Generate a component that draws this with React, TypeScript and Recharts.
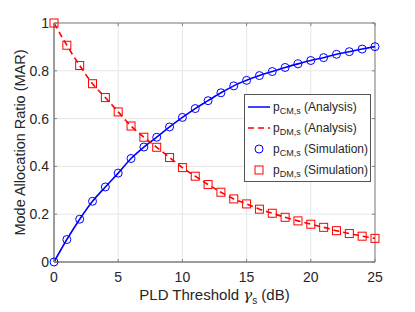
import React from 'react';
import { ComposedChart, Line, XAxis, YAxis, CartesianGrid, ReferenceArea } from 'recharts';

const thresholds = [0, 1, 2, 3, 4, 5, 6, 7, 8, 9, 10, 11, 12, 13, 14, 15, 16, 17, 18, 19, 20, 21, 22, 23, 24, 25];
const pCM = [0, 0.094, 0.179, 0.254, 0.314, 0.372, 0.433, 0.481, 0.522, 0.565, 0.605, 0.642, 0.675, 0.708, 0.737, 0.760, 0.780, 0.797, 0.814, 0.829, 0.843, 0.855, 0.869, 0.880, 0.891, 0.901];
const pDM = [1, 0.907, 0.822, 0.746, 0.688, 0.628, 0.569, 0.522, 0.480, 0.437, 0.395, 0.359, 0.324, 0.292, 0.264, 0.243, 0.221, 0.204, 0.187, 0.172, 0.158, 0.145, 0.131, 0.119, 0.108, 0.099];
const xTicks = [0, 5, 10, 15, 20, 25];
const yTicks = [0, 0.2, 0.4, 0.6, 0.8, 1];

const data = thresholds.map((x, i) => ({ x, cm: pCM[i], dm: pDM[i], cmSim: pCM[i], dmSim: pDM[i] }));

const FONT = '"Liberation Sans", Arial, Helvetica, sans-serif';
const TXT = '#262626';
const AXIS = '#808080';

// plot box (set by margins + axis sizes below)
const TOP = 23;
const BOTTOM = 262;
const LEFT = 54;
const RIGHT = 375;
const TICK = 3;

const Circle = (props: any) => {
  const { cx, cy } = props;
  if (cx == null || cy == null) return null;
  return <circle cx={cx} cy={cy} r={4} fill="none" stroke="#0000ff" strokeWidth={1} />;
};

const Square = (props: any) => {
  const { cx, cy } = props;
  if (cx == null || cy == null) return null;
  return <rect x={cx - 4} y={cy - 4} width={8} height={8} fill="none" stroke="#ff0000" strokeWidth={1} />;
};

const XTick = (props: any) => {
  const { x, payload } = props;
  return (
    <g>
      <line x1={x} y1={BOTTOM} x2={x} y2={BOTTOM - TICK} stroke={AXIS} />
      <line x1={x} y1={TOP} x2={x} y2={TOP + TICK} stroke={AXIS} />
      <text x={x} y={BOTTOM + 20} textAnchor="middle" fontFamily={FONT} fontSize={14} fill={TXT}>{payload.value}</text>
    </g>
  );
};

const YTick = (props: any) => {
  const { y, payload } = props;
  return (
    <g>
      <line x1={LEFT} y1={y} x2={LEFT + TICK} y2={y} stroke={AXIS} />
      <line x1={RIGHT} y1={y} x2={RIGHT - TICK} y2={y} stroke={AXIS} />
      <text x={LEFT - 5} y={y + 5} textAnchor="end" fontFamily={FONT} fontSize={14} fill={TXT}>{payload.value}</text>
    </g>
  );
};

const P = ({ sub }: { sub: string }) => (
  <span>
    p<sub style={{ fontSize: 9, verticalAlign: 'sub', lineHeight: 0 }}>{sub}</sub>
  </span>
);

const LegendBox = () => {
  const row: React.CSSProperties = { display: 'flex', alignItems: 'center', height: 21 };
  const sample: React.CSSProperties = { width: 24, display: 'flex', justifyContent: 'center', marginRight: 2 };
  return (
    <div style={{ position: 'absolute', left: 244, top: 94, width: 123, border: '1px solid #555', background: '#fff', padding: '1px 0 1px 2px', fontFamily: FONT, fontSize: 12, color: TXT, whiteSpace: 'nowrap', overflow: 'hidden' }}>
      <div style={row}>
        <div style={sample}><svg width={22} height={4}><line x1={0} y1={2} x2={22} y2={2} stroke="#0000ff" strokeWidth={1.5} /></svg></div>
        <P sub="CM,s" />&nbsp;(Analysis)
      </div>
      <div style={row}>
        <div style={sample}><svg width={22} height={4}><line x1={0} y1={2} x2={22} y2={2} stroke="#ff0000" strokeWidth={1.5} strokeDasharray="6 4" /></svg></div>
        <P sub="DM,s" />&nbsp;(Analysis)
      </div>
      <div style={row}>
        <div style={sample}><svg width={10} height={10}><circle cx={5} cy={5} r={4} fill="none" stroke="#0000ff" /></svg></div>
        <P sub="CM,s" />&nbsp;(Simulation)
      </div>
      <div style={row}>
        <div style={sample}><svg width={10} height={10}><rect x={1} y={1} width={8} height={8} fill="none" stroke="#ff0000" /></svg></div>
        <P sub="DM,s" />&nbsp;(Simulation)
      </div>
    </div>
  );
};

const XLabel = (props: any) => {
  const { viewBox } = props;
  const cx = viewBox.x + viewBox.width / 2;
  return (
    <text x={cx} y={300} textAnchor="middle" fontFamily={FONT} fontSize={15} fill={TXT}>
      PLD Threshold <tspan fontStyle="italic" fontFamily="'DejaVu Serif', serif">γ</tspan>
      <tspan fontSize={10} dy={4}>s</tspan>
      <tspan dy={-4}> (dB)</tspan>
    </text>
  );
};

const YLabel = (props: any) => {
  const { viewBox } = props;
  const cy = viewBox.y + viewBox.height / 2;
  return (
    <text x={25} y={cy} textAnchor="middle" transform={`rotate(-90, 25, ${cy})`} fontFamily={FONT} fontSize={14.5} fill={TXT}>
      Mode Allocation Ratio (MAR)
    </text>
  );
};

export default function App() {
  return (
    <div style={{ position: 'absolute', left: 0, top: 0, width: 415, height: 312, background: '#fff' }}>
      <ComposedChart width={415} height={312} data={data} margin={{ top: TOP, right: 415 - RIGHT, left: 0, bottom: 0 }}>
        <CartesianGrid stroke="#e6e6e6" strokeWidth={1} horizontalValues={yTicks} verticalValues={xTicks} />
        <XAxis dataKey="x" type="number" domain={[0, 25]} ticks={xTicks} height={312 - BOTTOM} stroke={AXIS}
          tickLine={false} tick={<XTick />} label={<XLabel />} />
        <YAxis type="number" domain={[0, 1]} ticks={yTicks} width={LEFT} stroke={AXIS}
          tickLine={false} tick={<YTick />} label={<YLabel />} />
        <ReferenceArea x1={0} x2={25} y1={0} y2={1} fill="none" stroke={AXIS} strokeWidth={1} ifOverflow="visible" />
        <Line dataKey="cm" type="monotone" stroke="#0000ff" strokeWidth={1.6} dot={false} isAnimationActive={false} />
        <Line dataKey="dm" type="monotone" stroke="#ff0000" strokeWidth={1.6} strokeDasharray="6 4" dot={false} isAnimationActive={false} />
        <Line dataKey="cmSim" stroke="none" dot={<Circle />} activeDot={false} isAnimationActive={false} />
        <Line dataKey="dmSim" stroke="none" dot={<Square />} activeDot={false} isAnimationActive={false} />
      </ComposedChart>
      <LegendBox />
    </div>
  );
}
